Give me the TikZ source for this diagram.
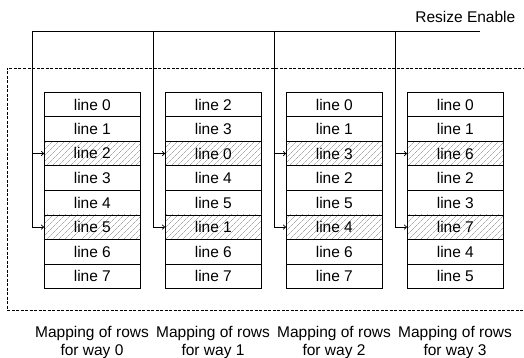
\documentclass[tikz,border=0pt]{standalone}
\usepackage{fontspec}
\setmainfont{Liberation Sans}
\usetikzlibrary{patterns.meta,arrows.meta}

\begin{document}
\begin{tikzpicture}[x=1pt,y=-1pt,line width=0.7pt,font=\fontsize{15.5}{18}\selectfont,
  cell/.style={draw, minimum width=96pt, minimum height=24.5pt, inner sep=0pt, anchor=north west},
  hatched/.style={pattern={Lines[angle=45,distance=4pt,line width=0.4pt]}, pattern color=gray},
  wire/.style={-{To[length=3pt,width=5pt]}}]
\useasboundingbox (0,0) rectangle (524,358);
\draw[dashed, dash pattern=on 3pt off 1.5pt] (530,68) -| (7,310) -- (530,310); % dashed frame
\foreach \w/\rows in {0/{0,1,2,3,4,5,6,7}, 1/{2,3,0,4,5,1,6,7}, 2/{0,1,3,2,5,4,6,7}, 3/{0,1,6,2,3,7,4,5}}{
  \foreach \r [count=\i from 0] in \rows{
    \ifnum\i=2 \def\rowstyle{hatched}\else\ifnum\i=5 \def\rowstyle{hatched}\else\def\rowstyle{}\fi\fi
    \node[cell,\rowstyle] (w\w r\i) at ({44+121*\w},{92+24.5*\i}) {line \r}; % rows of one way
  }
  \coordinate (sel\w) at ({32+121*\w},31);
  \draw[wire] (sel\w) |- (w\w r5.west); % select line
  \draw[wire] (sel\w |- w\w r2.west) -- (w\w r2.west);
  \node[align=center] (cap\w) at ({92+121*\w},342) {Mapping of rows\\for way \w}; % caption
}
\coordinate (en) at (480,31);
\draw (sel0) -- (en); % enable line
\node[anchor=base east] (resize) at (519,23) {Resize Enable};
\end{tikzpicture}
\end{document}
